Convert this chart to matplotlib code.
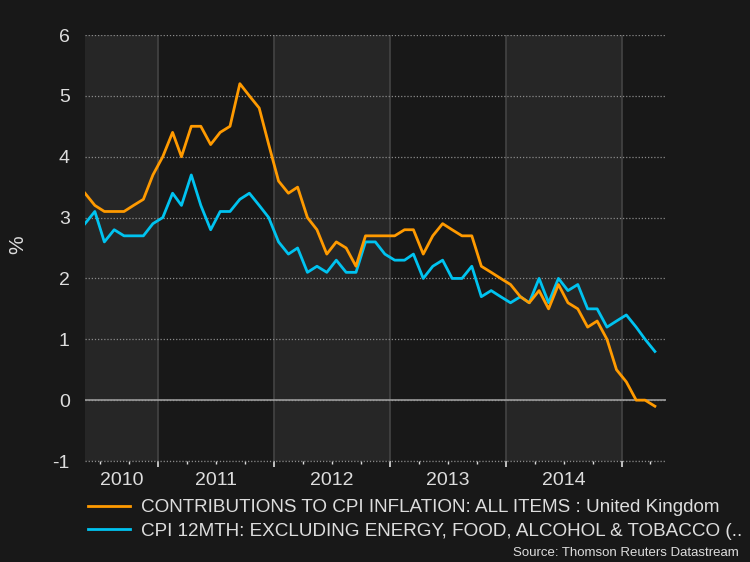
import matplotlib
matplotlib.use('Agg')
import matplotlib.pyplot as plt
import matplotlib.dates as mdates
import matplotlib.transforms as mtransforms
import numpy as np
import datetime as dt

# monthly data, May 2010 - Apr 2015
start_year, start_month = 2010, 5
cpi_all = [3.4, 3.2, 3.1, 3.1, 3.1, 3.2, 3.3, 3.7,
           4.0, 4.4, 4.0, 4.5, 4.5, 4.2, 4.4, 4.5, 5.2, 5.0, 4.8, 4.2,
           3.6, 3.4, 3.5, 3.0, 2.8, 2.4, 2.6, 2.5, 2.2, 2.7, 2.7, 2.7,
           2.7, 2.8, 2.8, 2.4, 2.7, 2.9, 2.8, 2.7, 2.7, 2.2, 2.1, 2.0,
           1.9, 1.7, 1.6, 1.8, 1.5, 1.9, 1.6, 1.5, 1.2, 1.3, 1.0, 0.5,
           0.3, 0.0, 0.0, -0.1]
cpi_core = [2.9, 3.1, 2.6, 2.8, 2.7, 2.7, 2.7, 2.9,
            3.0, 3.4, 3.2, 3.7, 3.2, 2.8, 3.1, 3.1, 3.3, 3.4, 3.2, 3.0,
            2.6, 2.4, 2.5, 2.1, 2.2, 2.1, 2.3, 2.1, 2.1, 2.6, 2.6, 2.4,
            2.3, 2.3, 2.4, 2.0, 2.2, 2.3, 2.0, 2.0, 2.2, 1.7, 1.8, 1.7,
            1.6, 1.7, 1.6, 2.0, 1.6, 2.0, 1.8, 1.9, 1.5, 1.5, 1.2, 1.3,
            1.4, 1.2, 1.0, 0.8]
labels = ['CONTRIBUTIONS TO CPI INFLATION: ALL ITEMS : United Kingdom',
          'CPI 12MTH: EXCLUDING ENERGY, FOOD, ALCOHOL & TOBACCO (..']
years = [2010, 2011, 2012, 2013, 2014]

dates = []
for i in range(len(cpi_all)):
    m = start_month - 1 + i
    dates.append(dt.date(start_year + m // 12, m % 12 + 1, 15))

bg = '#181818'
band = '#262626'
txt = '#dddddd'
plt.rcParams['font.family'] = ['Liberation Sans', 'DejaVu Sans']
plt.rcParams['axes.unicode_minus'] = False

fig = plt.figure(figsize=(7.5, 5.62), dpi=100, facecolor=bg)
ax = fig.add_axes([85/750, 1-461/562, (666-85)/750, (461-35)/562])
ax.set_facecolor(bg)

x0 = dates[0]
x1 = dt.date(2015, 5, 20)
ax.set_xlim(x0, x1)
ax.set_ylim(-1, 6)

# alternating year bands
for k, y in enumerate(range(2010, 2016)):
    a = max(mdates.date2num(dt.date(y, 1, 1)), mdates.date2num(x0))
    b = min(mdates.date2num(dt.date(y + 1, 1, 1)), mdates.date2num(x1))
    if k % 2 == 0:
        ax.axvspan(a, b, color=band, lw=0, zorder=0)
    if y > 2010:
        ax.axvline(dt.date(y, 1, 1), color='#444444', lw=1.2, zorder=1)

ax.yaxis.grid(True, linestyle=(0, (1, 1.5)), color='#8a8a8a', lw=0.9, zorder=1)
ax.axhline(0, color='#9a9a9a', lw=1.2, zorder=2)
# dotted bottom edge
ax.axhline(-1, linestyle=(0, (1, 1.5)), color='#8a8a8a', lw=0.9, zorder=2,
           clip_on=False)

ax.plot(dates, cpi_all, color='#ff9a00', lw=2, label=labels[0], zorder=4)
ax.plot(dates, cpi_core, color='#00c3f0', lw=2, label=labels[1], zorder=3)

for s in ax.spines.values():
    s.set_visible(False)

ax.set_yticks(range(-1, 7))
ax.tick_params(axis='y', length=0, pad=11, labelsize=14, labelcolor=txt)
ax.xaxis.set_major_locator(mdates.YearLocator())
ax.xaxis.set_minor_locator(mdates.MonthLocator(bymonth=[1, 4, 7, 10]))
ax.xaxis.set_major_formatter(plt.NullFormatter())
ax.tick_params(axis='x', which='major', length=4, width=1.2, color=txt)
ax.tick_params(axis='x', which='minor', length=2.5, width=1, color=txt)

# year labels centred on the visible part of each year
trans = mtransforms.blended_transform_factory(ax.transData, ax.transAxes)
for y in years:
    a = max(mdates.date2num(dt.date(y, 1, 1)), mdates.date2num(x0))
    b = min(mdates.date2num(dt.date(y + 1, 1, 1)), mdates.date2num(x1))
    ax.text((a + b) / 2, -0.046, str(y), transform=trans, ha='center',
            va='center', fontsize=14, color=txt)

fig.text(18/750, 1-245/562, '%', rotation=90, ha='center', va='center',
         fontsize=15, color=txt)

leg = fig.legend(loc='upper left', bbox_to_anchor=(88/750, 1-499/562),
                 frameon=False, fontsize=13.6, handlelength=2.2,
                 handletextpad=0.6, labelspacing=0.35, borderaxespad=0,
                 borderpad=0)
for t in leg.get_texts():
    t.set_color(txt)

fig.text(739/750, 1-553/562, 'Source: Thomson Reuters Datastream',
         ha='right', va='center', fontsize=9.5, color=txt,
         family=['Liberation Sans Narrow', 'Liberation Sans', 'DejaVu Sans'])

fig.savefig('out.png', dpi=100, facecolor=bg)
